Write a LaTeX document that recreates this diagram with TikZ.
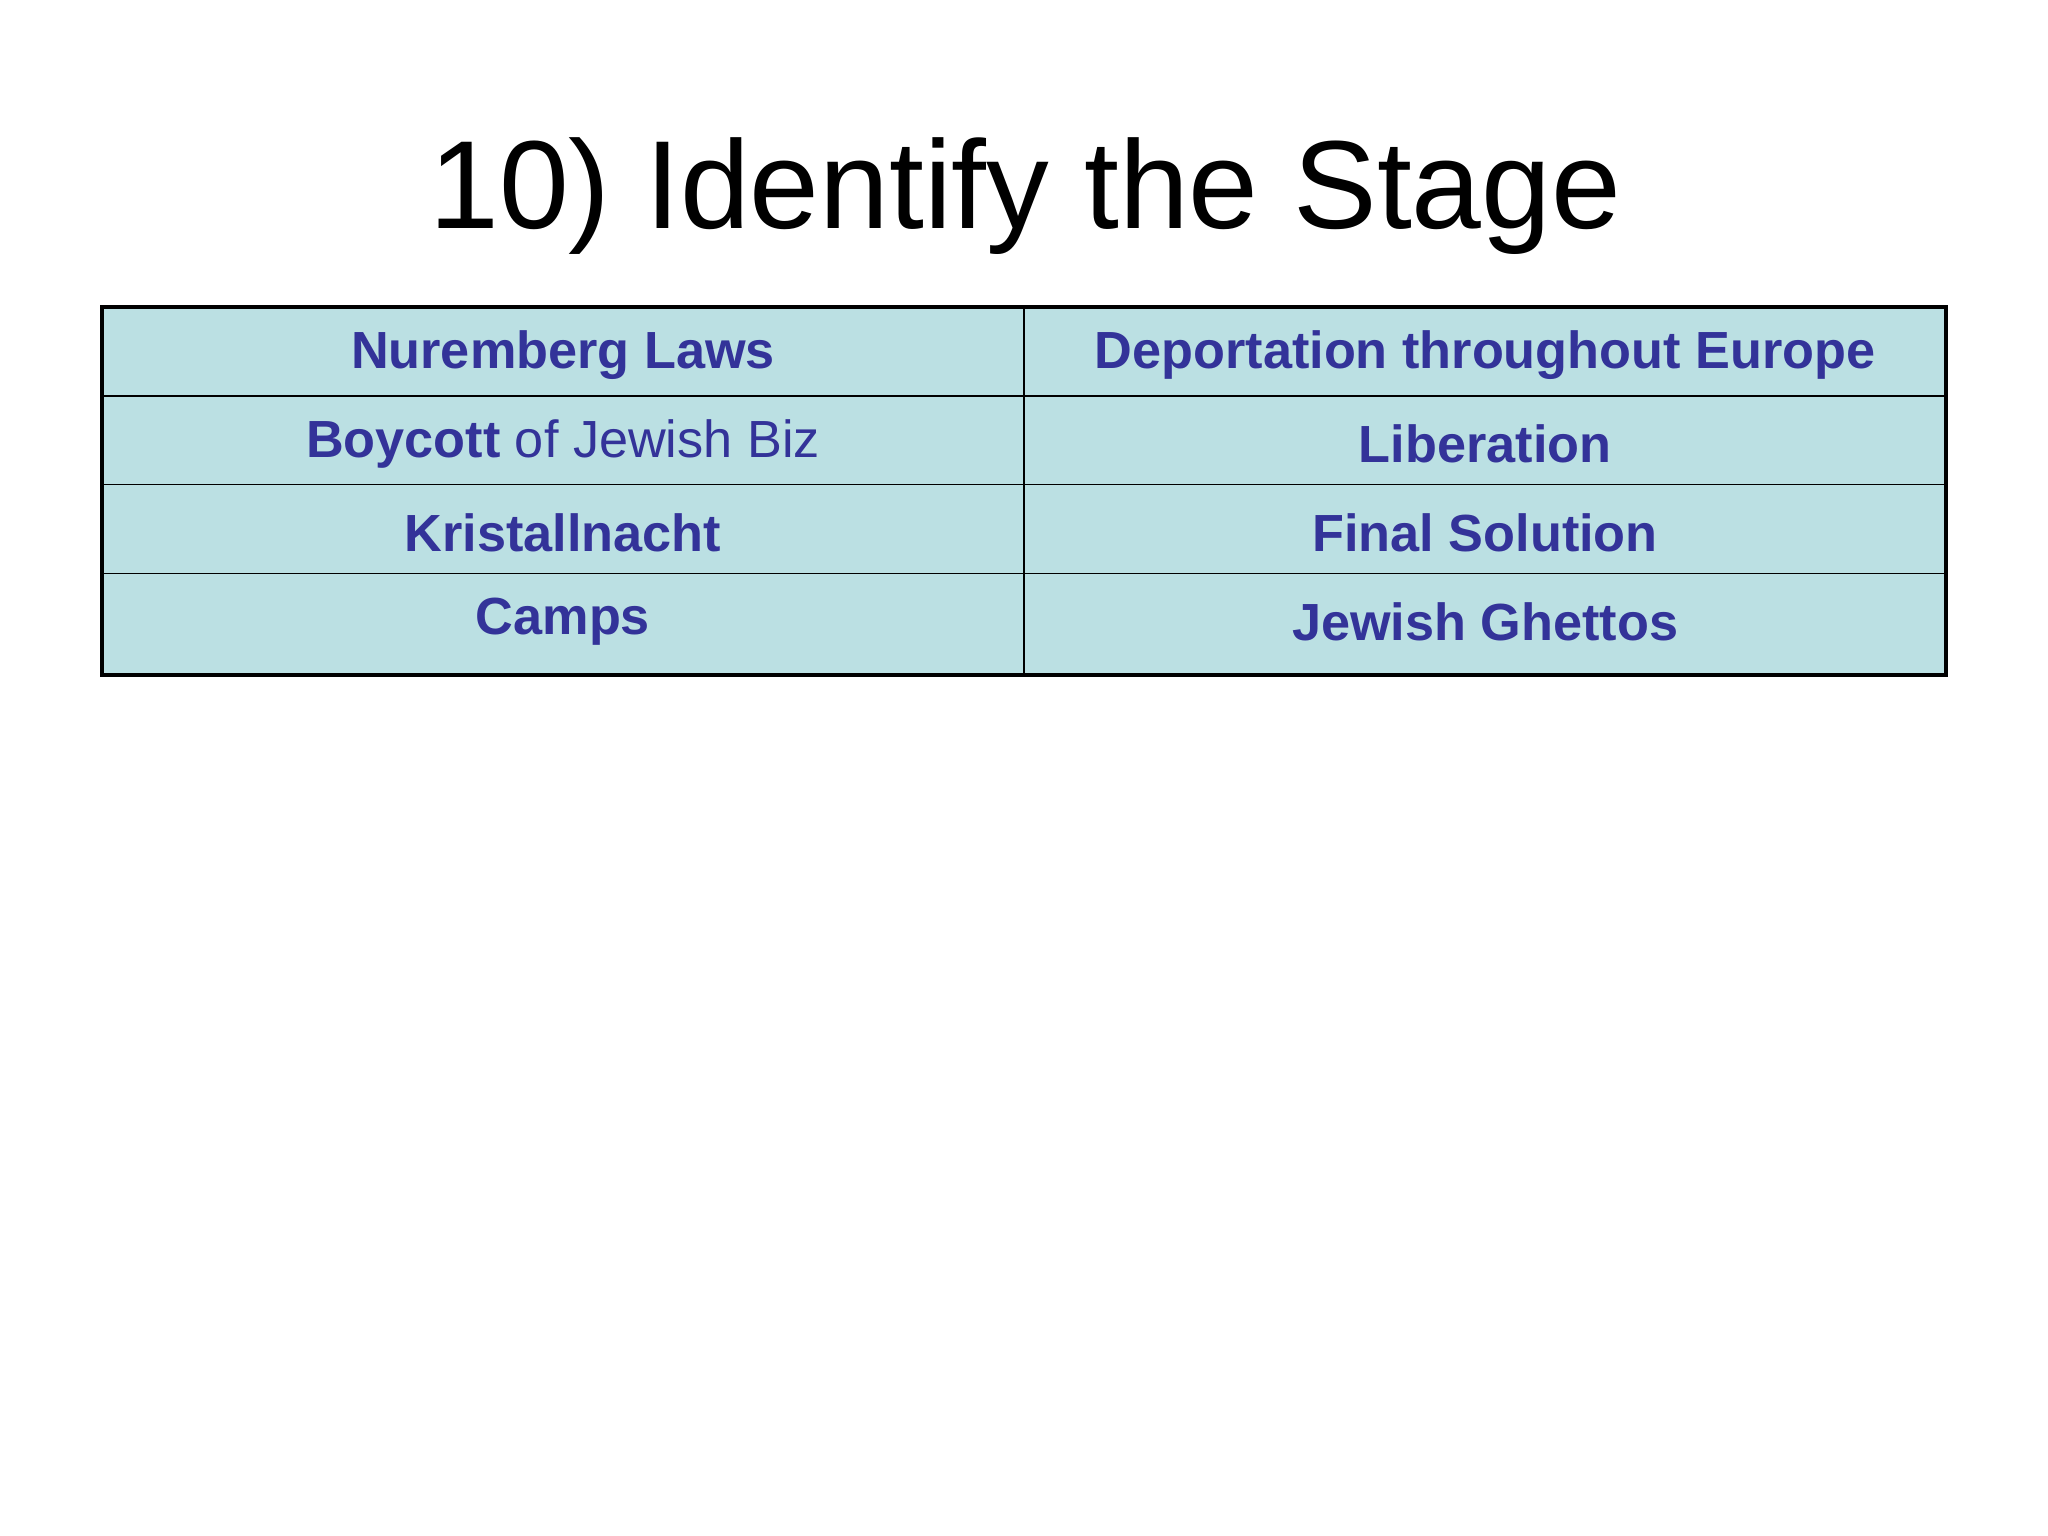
\documentclass[tikz,border=0pt]{standalone}
\usepackage{fontspec}
\setmainfont{Liberation Sans}
\definecolor{cellbg}{HTML}{BBE0E3}
\definecolor{txt}{HTML}{333399}
\begin{document}
\begin{tikzpicture}[x=0.5pt,y=-0.5pt,
  cell/.style={text=txt,font=\fontsize{20}{24}\selectfont\bfseries,anchor=center}]
\useasboundingbox (0,0) rectangle (1568,1176);
\fill[cellbg] (78,235) rectangle (1490,517);
\foreach \y in {303,371,439} \draw[line width=0.6pt] (78,\y) -- (1490,\y);
\draw[line width=0.6pt] (784,235) -- (784,517);
\draw[line width=1.6pt] (78,235) rectangle (1490,517);
\node[font=\fontsize{48}{56}\selectfont] (title) at (785,150) {10) Identify the Stage};
\node[cell] (a1) at (431,272) {Nuremberg Laws};
\node[cell] (b1) at (1137,272) {Deportation throughout Europe};
\node[cell] (a2) at (431,340) {Boycott \mdseries of Jewish Biz};
\node[cell] (b2) at (1137,340) {Liberation};
\node[cell] (a3) at (431,408) {Kristallnacht};
\node[cell] (b3) at (1137,408) {Final Solution};
\node[cell] (a4) at (431,476) {Camps};
\node[cell] (b4) at (1137,476) {Jewish Ghettos};
\end{tikzpicture}
\end{document}
